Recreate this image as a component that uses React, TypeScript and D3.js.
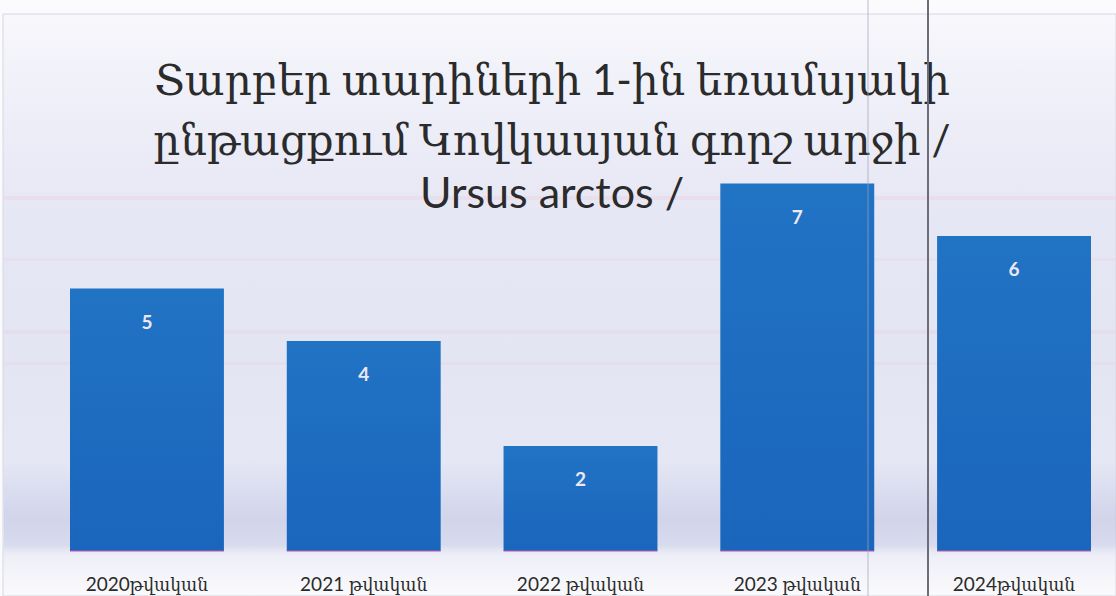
import React, { useEffect, useRef } from "react";
import * as d3 from "d3";

const categories = ["2020թվական", "2021 թվական", "2022 թվական", "2023 թվական", "2024թվական"];
const values = [5, 4, 2, 7, 6];
const titleLines = ["Տարբեր տարիների 1-ին եռամսյակի", "ընթացքում Կովկասյան գորշ արջի /", "Ursus arctos /"];

const W = 1116;
const H = 596;

export default function App() {
  const ref = useRef<SVGSVGElement>(null);

  useEffect(() => {
    const svg = d3.select(ref.current);
    svg.selectAll("*").remove();

    const defs = svg.append("defs");
    const bg = defs.append("linearGradient").attr("id", "bg").attr("x1", 0).attr("y1", 0).attr("x2", 0).attr("y2", 1);
    [
      [0, "#f8f8fc"],
      [0.15, "#eeeff8"],
      [0.35, "#e6e7f4"],
      [0.6, "#e3e5f3"],
      [0.85, "#e6e8f5"],
      [0.94, "#f0f1f8"],
      [1, "#fafafc"],
    ].forEach(([o, c]) => bg.append("stop").attr("offset", o as number).attr("stop-color", c as string));

    const barG = defs.append("linearGradient").attr("id", "barg").attr("x1", 0).attr("y1", 0).attr("x2", 0).attr("y2", 1);
    [
      [0, "#2173c4"],
      [0.5, "#1d6cc0"],
      [1, "#1a66bd"],
    ].forEach(([o, c]) => barG.append("stop").attr("offset", o as number).attr("stop-color", c as string));

    const shadowV = defs.append("linearGradient").attr("id", "shadowV").attr("x1", 0).attr("y1", 0).attr("x2", 0).attr("y2", 1);
    shadowV.append("stop").attr("offset", 0).attr("stop-color", "#b6bbdc").attr("stop-opacity", 0);
    shadowV.append("stop").attr("offset", 0.6).attr("stop-color", "#b6bbdc").attr("stop-opacity", 0.45);
    shadowV.append("stop").attr("offset", 0.85).attr("stop-color", "#c3c7e3").attr("stop-opacity", 0.5);
    shadowV.append("stop").attr("offset", 1).attr("stop-color", "#e8eaf6").attr("stop-opacity", 0);

    svg.append("rect").attr("width", W).attr("height", H).attr("fill", "#fbfbfd");
    svg.append("rect").attr("x", 3).attr("y", 14).attr("width", W - 3).attr("height", H - 14)
      .attr("fill", "url(#bg)").attr("stroke", "#d6d7e2").attr("stroke-width", 1);

    // faint stripes of the scanned background
    const stripes = [
      { y: 196, h: 4, c: "#ecd3e4", o: 0.5 },
      { y: 258, h: 3, c: "#e9d2e3", o: 0.35 },
      { y: 330, h: 4, c: "#e8cfe2", o: 0.4 },
      { y: 362, h: 3, c: "#e6d0e4", o: 0.3 },
    ];
    svg.append("g").selectAll("rect").data(stripes).join("rect")
      .attr("x", 4).attr("width", W - 4).attr("y", (d) => d.y).attr("height", (d) => d.h)
      .attr("fill", (d) => d.c).attr("opacity", (d) => d.o);

    svg.append("rect").attr("x", 4).attr("y", 460).attr("width", W - 4).attr("height", 100).attr("fill", "url(#shadowV)");

    const x = d3.scaleBand<string>().domain(categories).range([70, 1091]).paddingInner(0.29).paddingOuter(0);
    const y = d3.scaleLinear().domain([0, 7]).range([551, 183.5]);

    const g = svg.append("g");
    g.selectAll("rect.bar").data(values).join("rect")
      .attr("class", "bar")
      .attr("x", (d, i) => x(categories[i])!)
      .attr("width", x.bandwidth())
      .attr("y", (d) => y(d))
      .attr("height", (d) => y(0) - y(d))
      .attr("fill", "url(#barg)");

    g.selectAll("rect.edge").data(values).join("rect")
      .attr("class", "edge")
      .attr("x", (d, i) => x(categories[i])!)
      .attr("width", x.bandwidth())
      .attr("y", y(0) - 1)
      .attr("height", 2)
      .attr("fill", "#c05aa8")
      .attr("opacity", 0.5);

    g.selectAll("text.val").data(values).join("text")
      .attr("class", "val")
      .attr("x", (d, i) => x(categories[i])! + x.bandwidth() / 2)
      .attr("y", (d) => y(d) + 40)
      .attr("text-anchor", "middle")
      .attr("font-family", "Lato, 'Open Sans', sans-serif")
      .attr("font-weight", 700)
      .attr("font-size", 19)
      .attr("fill", "#ece8f2")
      .text((d) => String(d));

    g.selectAll("text.cat").data(categories).join("text")
      .attr("class", "cat")
      .attr("x", (d) => x(d)! + x.bandwidth() / 2)
      .attr("y", 591)
      .attr("text-anchor", "middle")
      .attr("font-family", "Lato, 'DejaVu Serif Condensed', 'DejaVu Serif', serif")
      .attr("font-size", 19)
      .attr("fill", "#2a2a2a")
      .text((d) => d);

    const titleY = [95, 155, 208];
    svg.append("g").selectAll("text").data(titleLines).join("text")
      .attr("x", 552)
      .attr("y", (d, i) => titleY[i])
      .attr("text-anchor", "middle")
      .attr("font-family", "Lato, 'DejaVu Serif', serif")
      .attr("font-size", (d, i) => (i < 2 ? 42 : 43))
      .attr("fill", "#2b2b2b")
      .text((d) => d);

    // scanner lines
    svg.append("line").attr("x1", 868).attr("x2", 868).attr("y1", 0).attr("y2", H)
      .attr("stroke", "#9ea3b8").attr("stroke-width", 1).attr("opacity", 0.7);
    svg.append("line").attr("x1", 928).attr("x2", 928).attr("y1", 0).attr("y2", H)
      .attr("stroke", "#6b6d78").attr("stroke-width", 2);
  }, []);

  return (
    <svg ref={ref} width={W} height={H} style={{ position: "absolute", left: 0, top: 0, display: "block" }} />
  );
}
